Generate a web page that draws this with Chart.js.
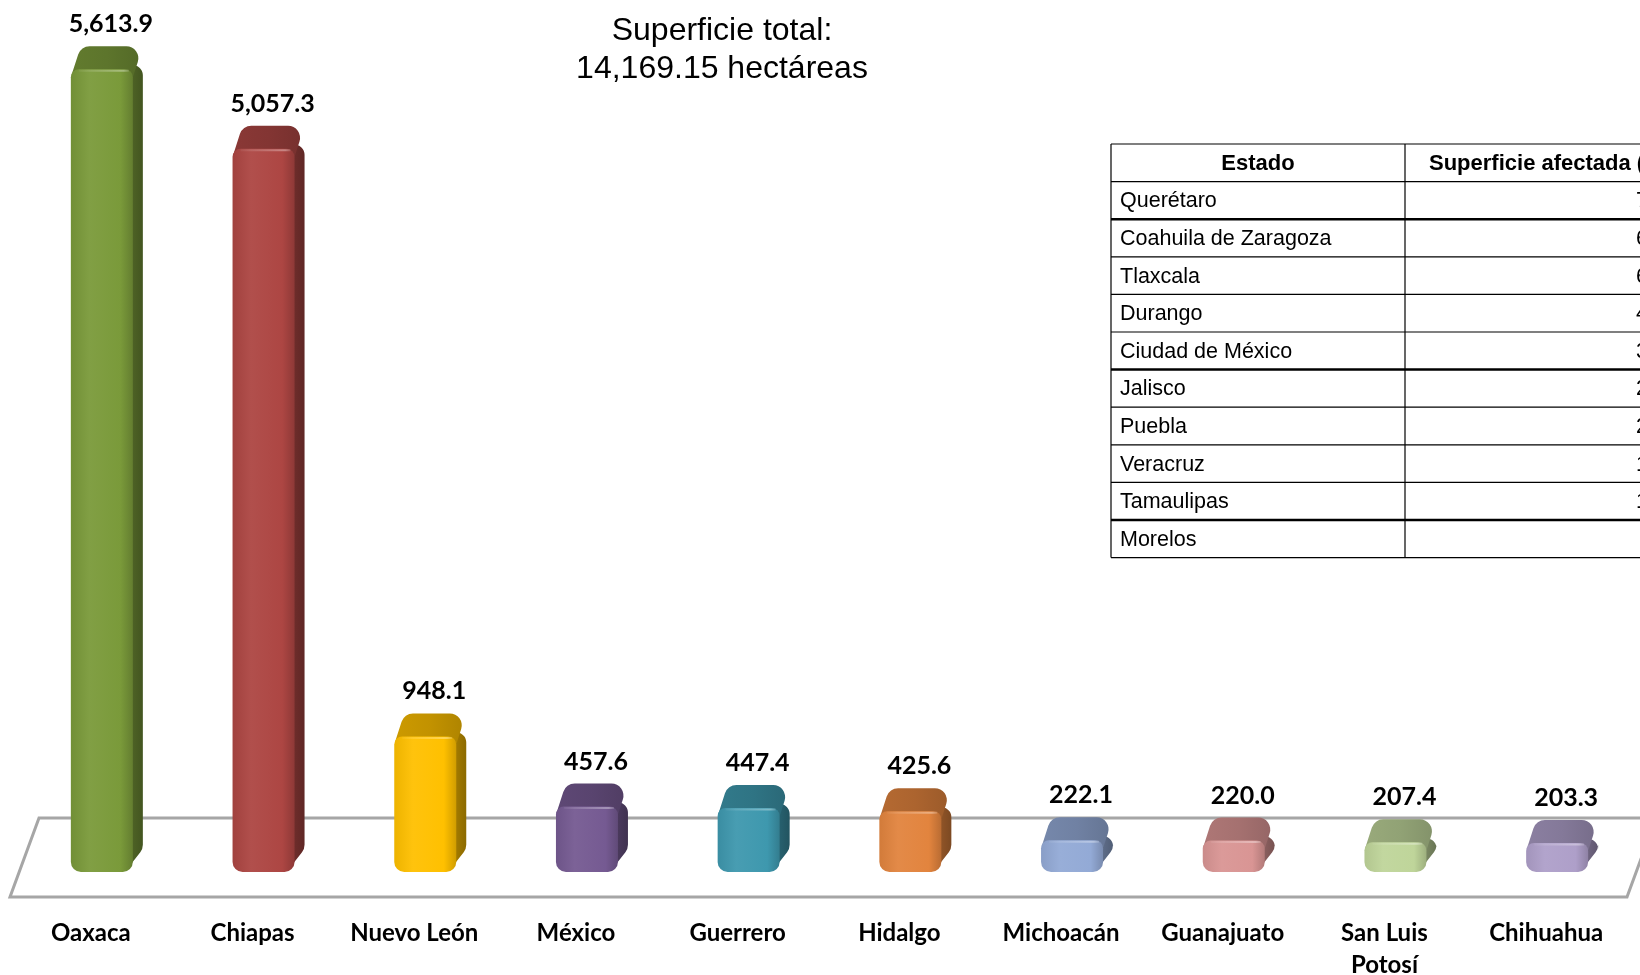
<!DOCTYPE html>
<html lang="es">
<head>
<meta charset="utf-8">
<title>Superficie afectada por estado</title>
<script src="https://cdn.jsdelivr.net/npm/chart.js@4.4.1/dist/chart.umd.min.js"></script>
<style>
  html, body { margin: 0; padding: 0; background: #fff; overflow: hidden; }
  #wrap { width: 1640px; height: 975px; }
</style>
</head>
<body>
<div id="wrap"><canvas id="chart" width="1640" height="975"></canvas></div>
<script>
// estados con mayor superficie afectada (hectáreas)
const estados = ['Oaxaca', 'Chiapas', 'Nuevo León', 'México', 'Guerrero', 'Hidalgo',
  'Michoacán', 'Guanajuato', ['San Luis', 'Potosí'], 'Chihuahua'];
const superficie = [5613.9, 5057.3, 948.1, 457.6, 447.4, 425.6, 222.1, 220.0, 207.4, 203.3];

// color del frente de cada barra
const colores = ['#7a9a3a', '#ad4643', '#ffc000', '#755a92', '#3e98ae', '#e2843e',
  '#93aad6', '#d99594', '#bfd59a', '#ae9fc9'];

// título
const titulo = ['Superficie total:', '14,169.15 hectáreas'];

// tabla con el resto de estados (la columna de valores sale cortada en la imagen,
// sólo se ve el primer dígito; los valores son estimados)
const tablaEncabezado = ['Estado', 'Superficie afectada (ha)'];
const tablaEstados = ['Querétaro', 'Coahuila de Zaragoza', 'Tlaxcala', 'Durango',
  'Ciudad de México', 'Jalisco', 'Puebla', 'Veracruz', 'Tamaulipas', 'Morelos'];
const tablaValores = [71.7, 65.0, 60.2, 45.3, 35.8, 27.4, 22.9, 17.6, 12.0, 8.6];

// aclarar / oscurecer un color hex
function tono(hex, f) {
  const n = parseInt(hex.slice(1), 16);
  let r = (n >> 16) & 255, g = (n >> 8) & 255, b = n & 255;
  if (f < 1) { r *= f; g *= f; b *= f; }
  else { r += (255 - r) * (f - 1); g += (255 - g) * (f - 1); b += (255 - b) * (f - 1); }
  return `rgb(${Math.round(r)},${Math.round(g)},${Math.round(b)})`;
}

// polígono con esquinas redondeadas (un radio por vértice)
function poligono(ctx, pts, radios) {
  ctx.beginPath();
  const n = pts.length;
  ctx.moveTo((pts[0][0] + pts[n - 1][0]) / 2, (pts[0][1] + pts[n - 1][1]) / 2);
  for (let i = 0; i < n; i++) {
    const p = pts[i], q = pts[(i + 1) % n];
    ctx.arcTo(p[0], p[1], q[0], q[1], radios[i]);
  }
  ctx.closePath();
}

// piso y barras en 3D
const barras3d = {
  id: 'barras3d',
  beforeDatasetsDraw(chart) {
    const { ctx, chartArea: a } = chart;
    const atras = a.bottom - 54, frente = a.bottom + 25;
    ctx.save();
    ctx.beginPath();
    ctx.moveTo(a.left + 29, atras);
    ctx.lineTo(a.right + 29, atras);
    ctx.lineTo(a.right, frente);
    ctx.lineTo(a.left, frente);
    ctx.closePath();
    ctx.fillStyle = '#fff';
    ctx.fill();
    ctx.lineWidth = 3;
    ctx.strokeStyle = '#a6a6a6';
    ctx.stroke();
    ctx.restore();
  },
  afterDatasetsDraw(chart) {
    const ctx = chart.ctx;
    const meta = chart.getDatasetMeta(0);
    const dx = 10, dy = -23, w = 62;
    ctx.save();
    meta.data.forEach((bar, i) => {
      const c = colores[i];
      const x0 = bar.x - 20, yTop = bar.y, yBase = bar.base;

      // costado
      poligono(ctx, [[x0 + w - 8, yBase], [x0 + w - 8, yTop], [x0 + w + dx, yTop + dy],
        [x0 + w + dx, yBase + dy]], [2, 2, 10, 12]);
      const gl = ctx.createLinearGradient(x0 + w - 8, 0, x0 + w + dx, 0);
      gl.addColorStop(0, tono(c, 0.7));
      gl.addColorStop(1, tono(c, 0.55));
      ctx.fillStyle = gl;
      ctx.fill();

      // tapa
      poligono(ctx, [[x0, yTop + 8], [x0 + dx, yTop + dy], [x0 + w + dx, yTop + dy],
        [x0 + w, yTop + 8]], [2, 12, 12, 2]);
      const gt = ctx.createLinearGradient(x0, 0, x0 + w + dx, 0);
      gt.addColorStop(0, tono(c, 0.8));
      gt.addColorStop(0.5, tono(c, 0.76));
      gt.addColorStop(1, tono(c, 0.68));
      ctx.fillStyle = gt;
      ctx.fill();

      // frente
      const gf = ctx.createLinearGradient(x0, 0, x0 + w, 0);
      gf.addColorStop(0, tono(c, 0.93));
      gf.addColorStop(0.3, tono(c, 1.05));
      gf.addColorStop(0.8, c);
      gf.addColorStop(1, tono(c, 0.82));
      ctx.beginPath();
      ctx.roundRect(x0, yTop, w, yBase - yTop, [8, 8, 10, 10]);
      ctx.fillStyle = gf;
      ctx.fill();

      // brillo en la arista superior
      const gb = ctx.createLinearGradient(x0, 0, x0 + w, 0);
      gb.addColorStop(0, 'rgba(255,255,255,0)');
      gb.addColorStop(0.85, 'rgba(255,255,255,0.35)');
      gb.addColorStop(1, 'rgba(255,255,255,0)');
      ctx.beginPath();
      ctx.moveTo(x0 + 8, yTop + 1.5);
      ctx.lineTo(x0 + w - 4, yTop + 1.5);
      ctx.strokeStyle = gb;
      ctx.lineWidth = 2;
      ctx.stroke();

      // etiqueta de valor
      ctx.font = 'bold 25px Lato';
      ctx.fillStyle = '#000';
      ctx.textAlign = 'center';
      ctx.textBaseline = 'middle';
      const txt = superficie[i].toLocaleString('en-US', { minimumFractionDigits: 1, maximumFractionDigits: 1 });
      ctx.fillText(txt, bar.x + 20, yTop + dy - 22);
    });
    ctx.restore();
  }
};

// título y tabla
const extras = {
  id: 'extras',
  afterDraw(chart) {
    const ctx = chart.ctx;
    ctx.save();
    ctx.fillStyle = '#000';
    ctx.textBaseline = 'middle';
    ctx.textAlign = 'center';
    ctx.font = '32px "Liberation Sans", Arial';
    ctx.fillText(titulo[0], 722, 31);
    ctx.fillText(titulo[1], 722, 69);

    const izq = 1111, div = 1405, der = 1700, arriba = 144, alto = 37.6;
    const filas = tablaEstados.length + 1;
    // líneas horizontales
    for (let f = 0; f <= filas; f++) {
      const y = arriba + f * alto;
      ctx.beginPath();
      ctx.moveTo(izq, y);
      ctx.lineTo(der, y);
      ctx.lineWidth = (f === 2 || f === 6 || f === 10) ? 2.5 : 1.2;
      ctx.strokeStyle = '#000';
      ctx.stroke();
    }
    [izq, div].forEach(x => {
      ctx.beginPath();
      ctx.moveTo(x, arriba);
      ctx.lineTo(x, arriba + filas * alto);
      ctx.lineWidth = 1.2;
      ctx.stroke();
    });
    ctx.font = 'bold 22px "Liberation Sans", Arial';
    ctx.textAlign = 'center';
    ctx.fillText(tablaEncabezado[0], (izq + div) / 2, arriba + alto / 2 + 1);
    ctx.textAlign = 'left';
    ctx.fillText(tablaEncabezado[1], 1429, arriba + alto / 2 + 1);

    ctx.font = '21.5px "Liberation Sans", Arial';
    const borde = 1636 + ctx.measureText('00.0').width;
    tablaEstados.forEach((e, i) => {
      const y = arriba + (i + 1.5) * alto + 1;
      ctx.textAlign = 'left';
      ctx.fillText(e, 1120, y);
      ctx.textAlign = 'right';
      ctx.fillText(tablaValores[i].toFixed(1), borde, y);
    });
    ctx.restore();
  }
};

new Chart(document.getElementById('chart'), {
  type: 'bar',
  data: {
    labels: estados,
    datasets: [{
      data: superficie,
      backgroundColor: 'rgba(0,0,0,0)',
      borderWidth: 0
    }]
  },
  options: {
    responsive: false,
    animation: false,
    devicePixelRatio: 1,
    layout: { padding: { top: 14, left: 10, right: 13, bottom: 0 } },
    plugins: {
      legend: { display: false },
      tooltip: { enabled: false },
      title: { display: false }
    },
    scales: {
      x: {
        grid: { display: false, drawTicks: false },
        border: { display: false },
        ticks: {
          color: '#000',
          font: { family: 'Lato', weight: 'bold', size: 24, lineHeight: 1.35 },
          padding: 45,
          maxRotation: 0,
          autoSkip: false
        },
        afterFit(scale) {
          // altura fija del eje y sin relleno lateral extra por las etiquetas
          scale.height = 103;
          scale.paddingLeft = 0;
          scale.paddingRight = 0;
        }
      },
      y: { display: false, min: 0, max: 6000 }
    }
  },
  plugins: [barras3d, extras]
});
</script>
</body>
</html>
